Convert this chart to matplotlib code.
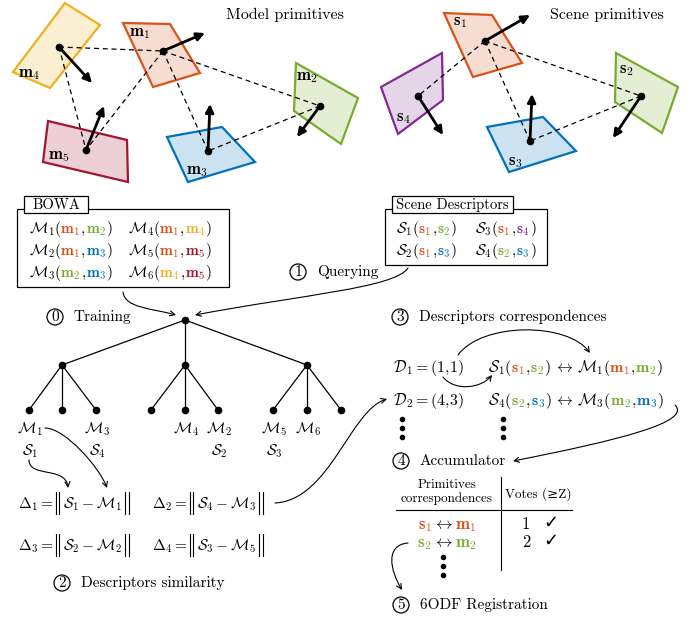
import matplotlib
matplotlib.use('Agg')
import matplotlib.pyplot as plt
from matplotlib.patches import Polygon, Circle, FancyArrowPatch, Rectangle
from matplotlib.path import Path

plt.rcParams['mathtext.fontset'] = 'cm'
plt.rcParams['font.family'] = ['cmr10', 'DejaVu Serif']

ORANGE, GREEN, BLUE = '#D95319', '#77AC30', '#0072BD'
YELLOW, RED, PURPLE = '#EDB120', '#A2142F', '#7E2F8E'

# primitives (index 1..n)
model_colors = [ORANGE, GREEN, BLUE, YELLOW, RED]
model_polys = [[(123, 23), (170, 24), (200, 73), (153, 87)],
               [(296, 63), (358, 98), (341, 144), (294, 111)],
               [(167, 137), (222, 127), (255, 162), (188, 182)],
               [(65, 3), (100, 25), (50, 88), (13, 72)],
               [(48, 121), (127, 140), (128, 182), (43, 162)]]
model_centres = [(163, 51), (320, 106), (208, 151), (59, 47), (86, 150)]
model_tips = [(205, 33), (297, 137), (210, 104), (92, 83), (104, 106)]
model_labels = [(140, 33), (307, 77), (197, 171), (29, 74), (59, 156)]
model_links = [(4, 1), (4, 5), (1, 5), (1, 3), (1, 2), (2, 3)]

scene_colors = [ORANGE, GREEN, BLUE, PURPLE]
scene_polys = [[(444, 13), (492, 15), (522, 63), (473, 77)],
               [(616, 53), (678, 87), (662, 133), (615, 102)],
               [(487, 127), (543, 117), (576, 151), (509, 172)],
               [(381, 87), (442, 53), (443, 100), (398, 134)]]
scene_centres = [(485, 41), (641, 96), (530, 141), (418, 96)]
scene_tips = [(530, 15), (613, 138), (532, 94), (443, 135)]
scene_labels = [(460, 22), (626, 70), (515, 162), (403, 118)]
scene_links = [(1, 4), (1, 3), (1, 2), (2, 3)]

# descriptors: (descriptor, primitive a, primitive b)
bowa = [(1, 1, 2), (2, 1, 3), (3, 2, 3), (4, 1, 4), (5, 1, 5), (6, 4, 5)]
scene_desc = [(1, 1, 2), (2, 1, 3), (3, 1, 4), (4, 2, 3)]

# tree leaves
leaf_model = ['1', None, '3', None, '4', '2', '5', '6', None]
leaf_scene = ['1', None, '4', None, None, '2', '3', None, None]

# similarity: (delta, S, M)
similarity = [(1, 1, 1), (2, 4, 3), (3, 2, 2), (4, 3, 5)]
# correspondences: (D, S, M)
corresp = [(1, 1, 1), (2, 4, 3)]
# votes: (primitive, votes)
votes = [(1, 1), (2, 2)]

fig = plt.figure(figsize=(7, 6.2), dpi=100)
ax = fig.add_axes([0, 0, 1, 1])
ax.set_xlim(0, 700)
ax.set_ylim(620, 0)
ax.axis('off')
renderer = fig.canvas.get_renderer()


def rich(x, y, parts, size=11, ha='left'):
    # parts: (text, colour[, extra gap after])
    texts = []
    cx = x
    for p in parts:
        s, c = p[0], p[1]
        gap = p[2] if len(p) > 2 else 0
        if s == 'BARS':
            texts.append(('bars', cx, c))
            cx += 10
            continue
        t = ax.text(cx, y, s, color=c, fontsize=size, ha='left', va='baseline')
        cx += t.get_window_extent(renderer).width + gap
        texts.append(t)
    shift = (cx - x) / 2 if ha == 'center' else 0
    for t in texts:
        if isinstance(t, tuple):
            bx = t[1] - shift + 2.5
            for dx in (0, 3.5):
                ax.plot([bx + dx, bx + dx], [y - 16, y + 6], color='k', lw=0.8)
        else:
            t.set_x(t.get_position()[0] - shift)
    return cx


def curve(pts, head=True):
    codes = [Path.MOVETO, Path.CURVE4, Path.CURVE4, Path.CURVE4]
    ax.add_patch(FancyArrowPatch(path=Path(pts, codes),
                                 arrowstyle='->' if head else '-',
                                 mutation_scale=9, lw=0.8, color='k'))


def step(x, y, n, label):
    ax.add_patch(Circle((x, y), 8, fill=False, lw=0.9, ec='k'))
    ax.text(x, y + 0.5, str(n), ha='center', va='center', fontsize=11)
    ax.text(x + 19, y, label, ha='left', va='center', fontsize=11)


def primitives(polys, colors, centres, tips, labels, links, letter):
    for a, b in links:
        pa, pb = centres[a - 1], centres[b - 1]
        ax.plot([pa[0], pb[0]], [pa[1], pb[1]], color='k', lw=0.9,
                dashes=(4, 3), zorder=3)
    for i, poly in enumerate(polys):
        ax.add_patch(Polygon(poly, closed=True, fc=colors[i], alpha=0.2, zorder=1))
        ax.add_patch(Polygon(poly, closed=True, fill=False, ec=colors[i],
                             lw=1.6, zorder=2))
        ax.text(labels[i][0], labels[i][1], r'$\mathbf{%s}_{%d}$' % (letter, i + 1),
                fontsize=12, ha='center', va='center', zorder=4)
        ax.annotate('', xy=tips[i], xytext=centres[i], zorder=5,
                    arrowprops=dict(arrowstyle='-|>', lw=2, color='k',
                                    mutation_scale=12, shrinkA=0, shrinkB=0))
        ax.plot(*centres[i], 'o', color='k', ms=4.5, zorder=6)


primitives(model_polys, model_colors, model_centres, model_tips, model_labels,
           model_links, 'm')
primitives(scene_polys, scene_colors, scene_centres, scene_tips, scene_labels,
           scene_links, 's')
ax.text(285, 15, 'Model primitives', fontsize=11.5, ha='center', va='center')
ax.text(607, 15, 'Scene primitives', fontsize=11.5, ha='center', va='center')


def desc_parts(name, k, a, b, letter, colors):
    return [(r'$\mathcal{%s}_\mathbf{%d}($' % (name, k), 'k', -1),
            (r'$\mathbf{%s}_{%d}$' % (letter, a), colors[a - 1]), (r'$,$', 'k'),
            (r'$\mathbf{%s}_{%d}$' % (letter, b), colors[b - 1]), (r'$)$', 'k')]


# BOWA box
ax.add_patch(Rectangle((17, 209), 212, 78, fill=False, lw=0.9))
ax.add_patch(Rectangle((24, 196), 64, 17, fc='white', ec='k', lw=0.9))
ax.text(56, 205, 'BOWA', fontsize=10.5, ha='center', va='center')
for i, (k, a, b) in enumerate(bowa):
    x = 29 if i < 3 else 128
    rich(x, 233 + 22 * (i % 3), desc_parts('M', k, a, b, 'm', model_colors))

# scene descriptors box
ax.add_patch(Rectangle((385, 209), 162, 56, fill=False, lw=0.9))
ax.add_patch(Rectangle((392, 196), 121, 17, fc='white', ec='k', lw=0.9))
ax.text(452, 205, 'Scene Descriptors', fontsize=10.5, ha='center', va='center')
for i, (k, a, b) in enumerate(scene_desc):
    x = 396 if i < 2 else 475
    rich(x, 233 + 22 * (i % 2), desc_parts('S', k, a, b, 's', scene_colors))

step(55, 317, 0, 'Training')
step(298, 272, 1, 'Querying')
curve([(123, 292), (125, 308), (150, 308), (176, 315)])
curve([(408, 268), (395, 288), (300, 295), (195, 315)])

# tree
root = (185, 320)
mids = [62, 185, 307]
leaves = [29, 62, 96, 151, 185, 218, 273, 307, 341]
for j, mx in enumerate(mids):
    ax.plot([root[0], mx], [root[1], 365], color='k', lw=0.9)
    for lx in leaves[3 * j:3 * j + 3]:
        ax.plot([mx, lx], [365, 410], color='k', lw=0.9)
ax.plot(root[0], root[1], 'o', color='k', ms=4.5)
ax.plot(mids, [365] * 3, 'o', color='k', ms=4.5, ls='none')
ax.plot(leaves, [410] * 9, 'o', color='k', ms=4.5, ls='none')
for lx, lm, ls in zip(leaves, leaf_model, leaf_scene):
    if lm:
        ax.text(lx + 1, 429, r'$\mathcal{M}_%s$' % lm, fontsize=11, ha='center',
                va='center')
    if ls:
        ax.text(lx + 1, 451, r'$\mathcal{S}_%s$' % ls, fontsize=11, ha='center',
                va='center')
curve([(29, 460), (29, 478), (66, 466), (68, 488)])
curve([(45, 428), (65, 428), (100, 468), (107, 488)])

# similarity
for i, (d, s, m) in enumerate(similarity):
    x = 18 if i % 2 == 0 else 152
    y = 508 + 42 * (i // 2)
    rich(x, y, [(r'$\Delta_%d=$' % d, 'k'), ('BARS', 'k'),
                (r'$\mathcal{S}_%d-\mathcal{M}_%d$' % (s, m), 'k'), ('BARS', 'k')])
step(62, 583, 2, 'Descriptors similarity')
curve([(275, 503), (330, 500), (350, 410), (387, 399)])

# correspondences
step(400, 317, 3, 'Descriptors correspondences')
for i, (d, s, m) in enumerate(corresp):
    y = 372 + 33 * i
    rich(393, y, [(r'$\mathcal{D}_%d=(%d{,}%d)$' % (d, s, m), 'k')], size=11.5)
    sa, sb = scene_desc[s - 1][1:]
    ma, mb = bowa[m - 1][1:]
    parts = desc_parts('S', s, sa, sb, 's', scene_colors)
    parts[-1] = (parts[-1][0], 'k', 3)
    parts += [(r'$\leftrightarrow$', 'k', 3)]
    parts += desc_parts('M', m, ma, mb, 'm', model_colors)
    rich(488, y, parts, size=11.5)
for x in (402, 503):
    ax.plot([x] * 3, [419, 428, 437], 'o', color='k', ms=3, ls='none')
curve([(458, 355), (482, 322), (568, 322), (590, 353)])
curve([(443, 377), (455, 392), (482, 388), (492, 375)])
curve([(675, 405), (692, 422), (620, 440), (513, 461)])

# accumulator
step(401, 461, 4, 'Accumulator')
ax.text(447, 485, 'Primitives', fontsize=9.5, ha='center', va='center')
ax.text(447, 499, 'correspondences', fontsize=9.5, ha='center', va='center')
ax.text(538, 494, 'Votes (\u2265Z)', fontsize=9.5, ha='center', va='center')
ax.plot([501, 501], [477, 570], color='k', lw=0.8)
ax.plot([396, 572], [510, 510], color='k', lw=0.8)
for i, (p, v) in enumerate(votes):
    y = 529 + 18 * i
    c = scene_colors[p - 1]
    rich(447, y, [(r'$\mathbf{s}_%d$' % p, c, 1), (r'$\leftrightarrow$', 'k', 1),
                  (r'$\mathbf{m}_%d$' % p, c)], size=12, ha='center')
    ax.text(526, y, str(v), fontsize=12, ha='center', va='baseline')
    ax.text(551, y - 1, '\u2713', fontsize=13, ha='center', va='baseline',
            family='DejaVu Sans', fontweight='bold')
ax.plot([443] * 3, [557, 566, 575], 'o', color='k', ms=3, ls='none')
curve([(408, 543), (385, 545), (390, 570), (402, 590)])
step(401, 605, 5, '6ODF Registration')

fig.savefig('out.png', dpi=100)
